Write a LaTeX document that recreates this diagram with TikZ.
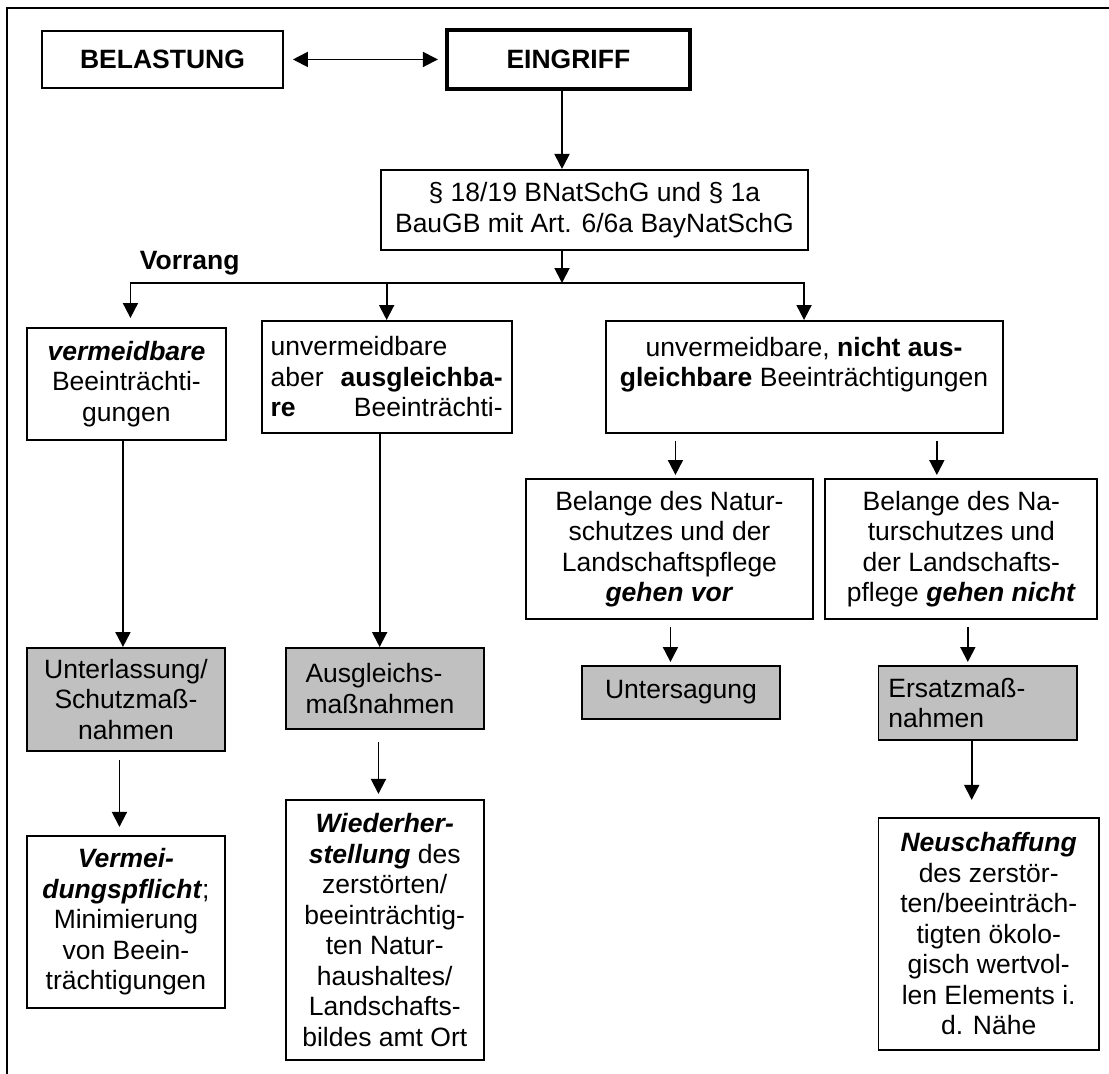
\documentclass[tikz,border=0pt]{standalone}
\usepackage{fontspec}
\setmainfont{Liberation Sans}
\usepackage{tikz}
\usetikzlibrary{arrows.meta,positioning}
\definecolor{silber}{RGB}{192,192,192}

\begin{document}
\begin{tikzpicture}[x=1pt, y=-1pt, ->, >={Triangle[length=15pt,width=15pt]}, line width=1.9pt, inner sep=0pt, font=\fontsize{26.5}{30.5}\selectfont]
	\tikzset{kasten/.style={draw, align=center, anchor=north west}}
	\tikzstyle{grau}=[kasten, fill=silber]

	\useasboundingbox (0,0) rectangle (1109,1074);
	\draw[-, line width=2.2pt] (7,1074) -- (7,8) -- (1109,8);

	%KASTEN
	\node[kasten, minimum width=241pt, minimum height=57pt] (belastung) at (41,30) {\textbf{BELASTUNG}};
	\node[kasten, line width=4pt, minimum width=243pt, minimum height=59pt] (eingriff) [right=161pt of belastung] {\textbf{EINGRIFF}};
	\node[kasten, minimum width=426.5pt, minimum height=80pt] (gesetz) [below=78pt of eingriff, xshift=26pt] {§ 18/19 BNatSchG und § 1a\\BauGB mit Art. 6/6a BayNatSchG};
	\node[anchor=base west] (vorrang) at (139,269) {\textbf{Vorrang}};

	\node[kasten, minimum width=199pt, minimum height=112pt] (vermeidbar) at (26,327) {\textbf{\textit{vermeidbare}}\\Beeinträchti-\\gungen};
	\node[kasten, minimum width=250pt, minimum height=112pt, text width=232pt, align=left] (ausgleichbar) at (260.7,320) {unvermeidbare\\aber\hfill\textbf{ausgleichba-}\\\textbf{re}\hfill Beeinträchti-};
	\node[kasten, minimum width=397pt, minimum height=112pt] (nichtausgl) at (604.6,320) {unvermeidbare, \textbf{nicht aus-}\\\textbf{gleichbare} Beeinträchtigungen\\~};

	\node[kasten, minimum width=287pt, minimum height=140pt] (belangevor) at (525,478) {Belange des Natur-\\schutzes und der\\Landschaftspflege\\\textbf{\textit{gehen vor}}};
	\node[kasten, minimum width=272pt, minimum height=140pt] (belangenicht) [right=10.5pt of belangevor] {Belange des Na-\\turschutzes und\\der Landschafts-\\pflege \textbf{\textit{gehen nicht}}};

	\node[grau, minimum width=198pt, minimum height=103pt] (unterlassung) at (26,647) {Unterlassung/\\Schutzmaß-\\nahmen};
	\node[grau, minimum width=198.4pt, minimum height=81pt, text width=158.4pt, align=left] (ausgleich) at (284.6,647) {Ausgleichs-\\maßnahmen};
	\node[grau, minimum width=198pt, minimum height=53pt] (untersagung) at (581,665) {Untersagung};
	\node[grau, minimum width=198.5pt, minimum height=74pt, text width=178.5pt, align=left] (ersatz) at (877.5,665) {Ersatzmaß-\\nahmen};

	\node[kasten, minimum width=198pt, minimum height=172pt] (vermeidung) [below=83pt of unterlassung] {\textbf{\textit{Vermei-}}\\\textbf{\textit{dungspflicht}};\\Minimierung\\von Beein-\\trächtigungen};
	\node[kasten, minimum width=198.4pt, minimum height=260pt] (wiederherst) [below=69pt of ausgleich] {\textbf{\textit{Wiederher-}}\\\textbf{\textit{stellung}} des\\zerstörten/\\beeinträchtig-\\ten Natur-\\haushaltes/\\Landschafts-\\bildes amt Ort};
	\node[kasten, minimum width=220.5pt, minimum height=232pt] (neuschaffung) [below=76pt of ersatz.south west, anchor=north west] {\textbf{\textit{Neuschaffung}}\\des zerstör-\\ten/beeinträch-\\tigten ökolo-\\gisch wertvol-\\len Elements i.\\d. Nähe};

	%PFEILE
	\coordinate (verteiler) at (562,283);
	\draw[<->, shorten <=9pt, shorten >=7pt] (belastung) -- (eingriff);
	\draw (eingriff.south -| verteiler) -- (gesetz.north -| verteiler);
	\draw (gesetz.south -| verteiler) -- (verteiler);
	\draw[shorten >=9pt] (verteiler) -| ([xshift=4pt]vermeidbar.north);
	\draw (verteiler) -| (ausgleichbar.north);
	\draw (verteiler) -| (nichtausgl.north);

	\draw ([xshift=-3.5pt]vermeidbar.south) -- ([xshift=-3.5pt]vermeidbar.south |- unterlassung.north);
	\draw ([xshift=-7pt]ausgleichbar.south) -- ([xshift=-7pt]ausgleichbar.south |- ausgleich.north);
	\draw[shorten <=7pt, shorten >=3pt] ([xshift=6pt]belangevor.north |- nichtausgl.south) -- ([xshift=6pt]belangevor.north);
	\draw[shorten <=7pt, shorten >=3pt] ([xshift=-24.5pt]belangenicht.north |- nichtausgl.south) -- ([xshift=-24.5pt]belangenicht.north);
	\draw[shorten <=7pt, shorten >=3pt] ([xshift=1pt]belangevor.south) -- ([xshift=1pt]belangevor.south |- untersagung.north);
	\draw[shorten <=7pt, shorten >=3pt] ([xshift=6.5pt]belangenicht.south) -- ([xshift=6.5pt]belangenicht.south |- ersatz.north);
	\draw[shorten <=8pt, shorten >=8pt] ([xshift=-6.5pt]unterlassung.south) -- ([xshift=-6.5pt]unterlassung.south |- vermeidung.north);
	\draw[shorten <=12pt, shorten >=5pt] ([xshift=-6.3pt]ausgleich.south) -- ([xshift=-6.3pt]ausgleich.south |- wiederherst.north);
	\draw[shorten >=17pt] ([xshift=-6pt]ersatz.south) -- ([xshift=-6pt]ersatz.south |- neuschaffung.north);
\end{tikzpicture}
\end{document}
